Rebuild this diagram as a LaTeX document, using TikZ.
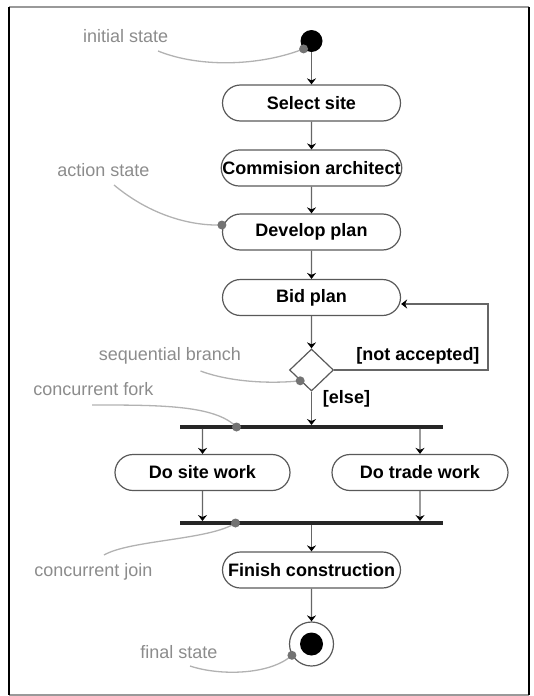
\documentclass[tikz,border=0pt]{standalone}
\usepackage{fontspec}
\setmainfont{Liberation Sans}
\usetikzlibrary{arrows.meta,shapes.geometric,shapes.misc}

\begin{document}
\begin{tikzpicture}[x=1pt, y=-1pt,
    accion/.style={rounded rectangle, draw=black!65, line width=1.2pt,
      minimum width=178pt, minimum height=36pt, inner xsep=0pt,
      font=\fontsize{18}{20}\selectfont\bfseries},
    flujo/.style={draw=black!60, line width=1.2pt, -{Stealth[length=6pt,width=9pt,black]}},
    barra/.style={fill=black!85, minimum width=263pt, minimum height=3.5pt, inner sep=0pt},
    guarda/.style={font=\fontsize{18}{20}\selectfont\bfseries},
    nota/.style={text=black!45, font=\fontsize{18}{20}\selectfont},
    guia/.style={draw=black!30, line width=1.3pt},
    punto/.style={fill=black!55}
  ]
  \useasboundingbox (0,0) rectangle (533,696);

  % Marco
  \draw[black!40, line width=1.5pt] (9,7) -- (529,7) (9,695) -- (529,695);
  \draw[black, line width=1.5pt] (9,7) -- (9,695) (529,7) -- (529,695);

  % Estados
  \node[circle, fill=black, minimum size=22pt, inner sep=0pt] (ini) at (311.5,41) {};
  \node[accion] (site) at (311.5,103) {Select site};
  \node[accion] (arch) at (311.5,168) {Commision architect};
  \node[accion] (plan) at (311.5,232) {Develop plan};
  \node[accion] (bid) at (311.5,297.5) {Bid plan};
  \node[diamond, draw=black!65, line width=1.2pt, minimum width=44pt,
    minimum height=42pt, inner sep=0pt] (dec) at (311.5,370) {};
  \node[barra] (fork) at (311.5,427) {};
  \node[accion, minimum width=175pt] (dosite) at (202.5,472.5) {Do site work};
  \node[accion, minimum width=176pt] (dotrade) at (420,472.5) {Do trade work};
  \node[barra] (join) at (311.5,523) {};
  \node[accion] (finish) at (311.5,570) {Finish construction};
  \node[circle, draw=black!65, line width=1.2pt, minimum size=44pt, inner sep=0pt] (fin) at (311.5,644) {};
  \node[circle, fill=black, minimum size=23pt, inner sep=0pt] (finin) at (fin) {};

  % Transiciones
  \foreach \a/\b in {ini/site, site/arch, arch/plan, plan/bid, bid/dec,
                     dec/fork, join/finish, finish/fin}
    \draw[flujo] (\a) -- (\b);
  \draw[flujo] (dosite |- fork.south) -- (dosite);
  \draw[flujo] (dotrade |- fork.south) -- (dotrade);
  \draw[flujo] (dosite) -- (dosite |- join.north);
  \draw[flujo] (dotrade) -- (dotrade |- join.north);

  % Bucle
  \coordinate (loop) at (488,304);
  \draw[flujo] (dec.east) -| (loop) -- (bid.east |- loop);

  % Guardas
  \node[guarda] (noacc) at (418,355.5) {[not accepted]};
  \node[guarda] (else) at (346.5,399) {[else]};

  % Notas
  \foreach \nombre/\pos/\texto in {
      n1/{125.75,35.7}/initial state,
      n2/{103.5,170}/action state,
      n3/{170,355.5}/sequential branch,
      n4/{93.3,389}/concurrent fork,
      n5/{93.3,572}/concurrent join,
      n6/{179,652}/final state
    } {
      \node[nota] (\nombre) at (\pos) {\texto};
    }

  % Lineas guia
  \coordinate (g1) at (158,51);
  \coordinate (g2) at (114,185);
  \coordinate (g3) at (200.5,371);
  \coordinate (g4) at (92,405);
  \coordinate (g5) at (104,555);
  \coordinate (g6) at (190,666);
  \coordinate (p1) at (ini.225);
  \coordinate (p2) at ([yshift=7pt]plan.west);
  \coordinate (p3) at (dec.south west);
  \coordinate (p4) at ([xshift=-75pt]fork.center);
  \coordinate (p5) at ([xshift=-76pt]join.center);
  \coordinate (p6) at (fin.210);
  \draw[guia] (g1) .. controls (200,68) and (260,66) .. (p1);
  \draw[guia] (g2) .. controls (150,215) and (190,226) .. (p2);
  \draw[guia] (g3) .. controls (230,382) and (270,384) .. (p3);
  \draw[guia] (g4) .. controls (160,405) and (215,405) .. (p4);
  \draw[guia] (g5) .. controls (130,540) and (210,540) .. (p5);
  \draw[guia] (g6) .. controls (220,676) and (270,675) .. (p6);
  \foreach \p in {p1,p2,p3,p4,p5,p6}
    \fill[punto] (\p) circle (4.5pt);
\end{tikzpicture}
\end{document}
